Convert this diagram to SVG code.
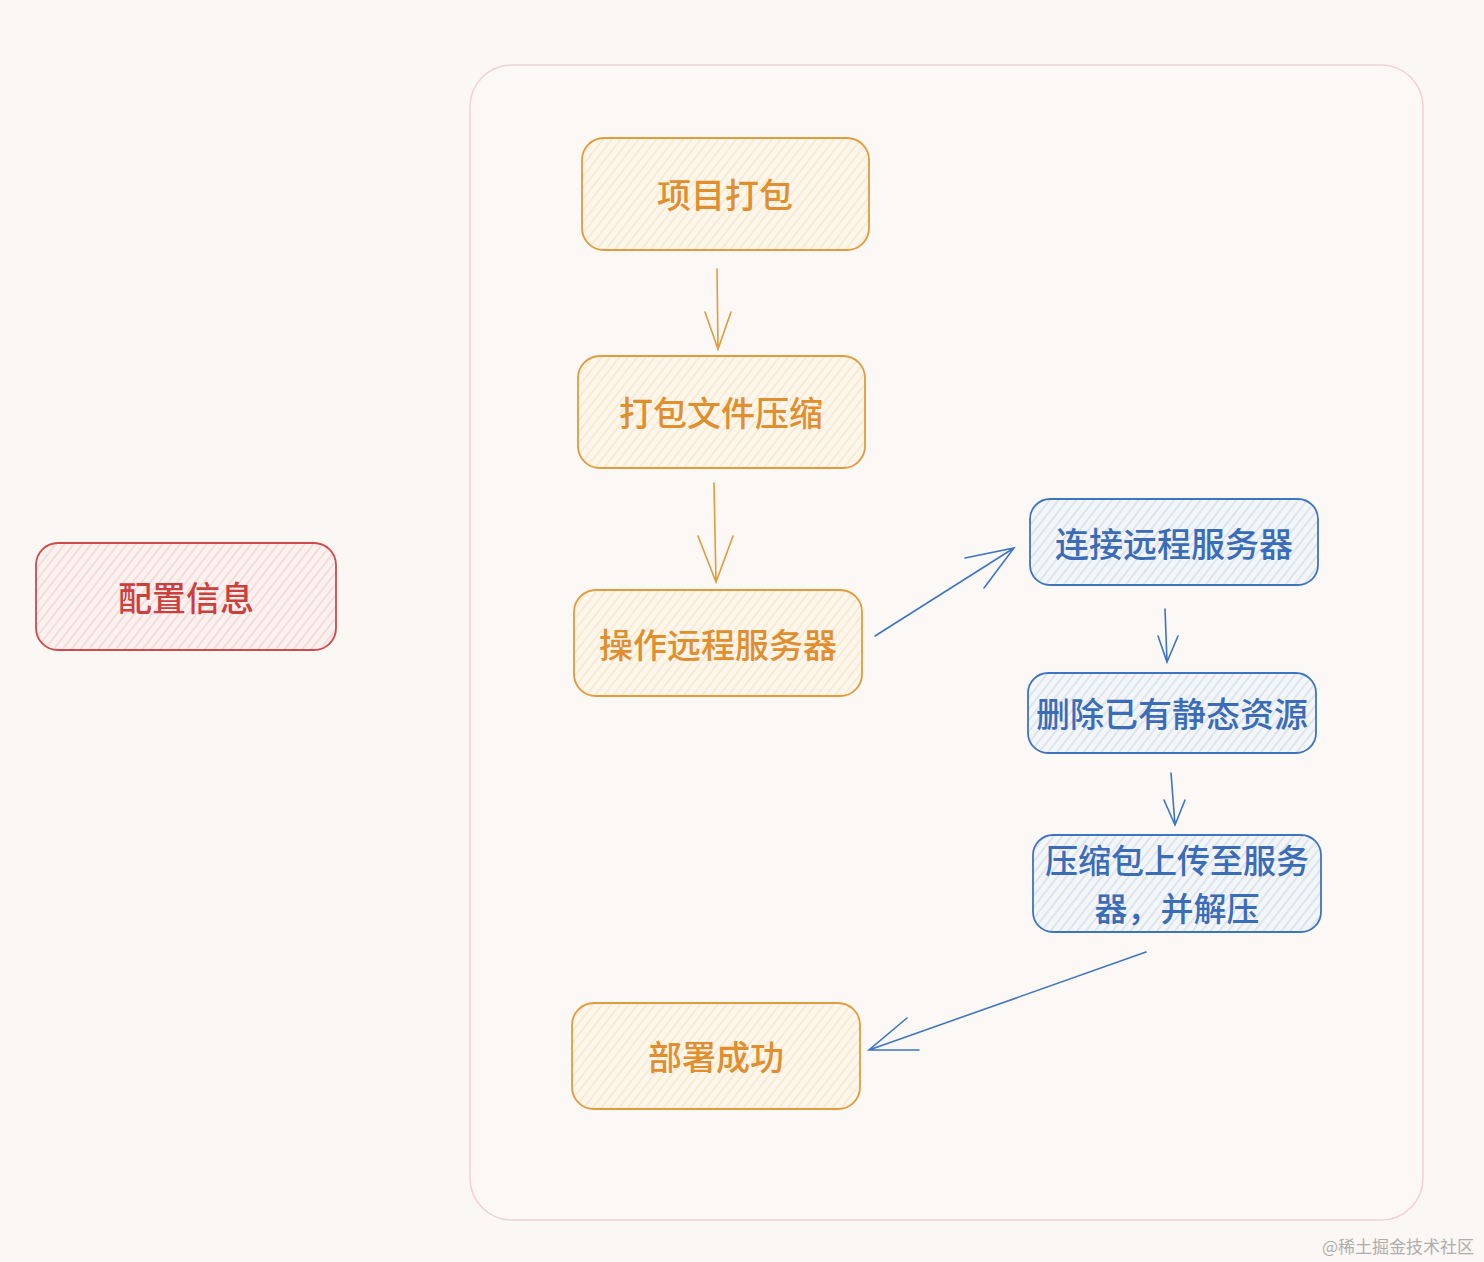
<svg xmlns="http://www.w3.org/2000/svg" width="1484" height="1262" viewBox="0 0 1484 1262">
<style>
.t{font-family:"Noto Sans CJK SC","Noto Sans",sans-serif;font-size:34px;text-anchor:middle;dominant-baseline:central;font-weight:500}
.o rect{fill:url(#ho);stroke:#e39b3c;stroke-width:1.8}
.o text{fill:#e08e2e}
.b rect{fill:url(#hb);stroke:#3f75c0;stroke-width:1.8}
.b text{fill:#3a6cb8}
.r rect{fill:url(#hr);stroke:#cf4a48;stroke-width:1.8}
.r text{fill:#cc3f3f}
.ao{stroke:#e39b3c;stroke-width:1.6;fill:none;stroke-linecap:round}
.ab{stroke:#3f75c0;stroke-width:1.6;fill:none;stroke-linecap:round}
</style>
<defs>
<pattern id="ho" width="7" height="7" patternUnits="userSpaceOnUse" patternTransform="rotate(38)">
<rect width="7" height="7" fill="#fcf6ec"/><line x1="1" y1="0" x2="1" y2="7" stroke="#f7e2bd" stroke-width="1.1"/></pattern>
<pattern id="hb" width="7" height="7" patternUnits="userSpaceOnUse" patternTransform="rotate(38)">
<rect width="7" height="7" fill="#f4f5f6"/><line x1="1" y1="0" x2="1" y2="7" stroke="#c8d8ec" stroke-width="1.1"/></pattern>
<pattern id="hr" width="7" height="7" patternUnits="userSpaceOnUse" patternTransform="rotate(38)">
<rect width="7" height="7" fill="#fbf2f0"/><line x1="1" y1="0" x2="1" y2="7" stroke="#eecdc9" stroke-width="1.1"/></pattern>
</defs>
<rect width="1484" height="1262" fill="#faf7f4"/>
<g id="container"><rect x="470" y="65" width="953" height="1155" rx="42" fill="#fbf8f5" stroke="#f1d2d2" stroke-width="1.5"/></g>
<g id="n1" class="o"><rect x="582" y="138" width="287" height="112" rx="22"/><text class="t" x="725" y="193">项目打包</text></g>
<g id="n2" class="o"><rect x="578" y="356" width="287" height="112" rx="22"/><text class="t" x="721" y="411">打包文件压缩</text></g>
<g id="n3" class="o"><rect x="574" y="590" width="288" height="106" rx="22"/><text class="t" x="718" y="643">操作远程服务器</text></g>
<g id="n4" class="o"><rect x="572" y="1003" width="288" height="106" rx="22"/><text class="t" x="716" y="1055">部署成功</text></g>
<g id="cfg" class="r"><rect x="36" y="543" width="300" height="107" rx="22"/><text class="t" x="186" y="596">配置信息</text></g>
<g id="b1" class="b"><rect x="1030" y="499" width="288" height="86" rx="20"/><text class="t" x="1174" y="542">连接远程服务器</text></g>
<g id="b2" class="b"><rect x="1028" y="673" width="288" height="80" rx="20"/><text class="t" x="1172" y="712">删除已有静态资源</text></g>
<g id="b3" class="b"><rect x="1033" y="835" width="288" height="97" rx="20"/><text class="t" x="1177" y="859" style="font-size:33px">压缩包上传至服务</text><text class="t" x="1177" y="907" style="font-size:33px">器，并解压</text></g>
<g id="connectors">
<path class="ao" d="M717 269 L718 349 M705 312 L718 349 L731 312"/>
<path class="ao" d="M714 483 L716 582 M698 536 L716 582 L733 536"/>
<path class="ab" d="M875 636 L1014 548 M965 558 L1014 548 L984 588"/>
<path class="ab" d="M1165 609 L1167 662 M1158 636 L1167 662 L1178 636"/>
<path class="ab" d="M1171 773 L1175 825 M1164 800 L1175 825 L1185 800"/>
<path class="ab" d="M1146 952 L869 1050 M907 1018 L869 1050 L919 1050"/>
</g>
<text x="1398" y="1245" font-family="'Noto Sans CJK SC',sans-serif" font-size="17" fill="#b0aeac" text-anchor="middle" dominant-baseline="central">@稀土掘金技术社区</text>
</svg>
